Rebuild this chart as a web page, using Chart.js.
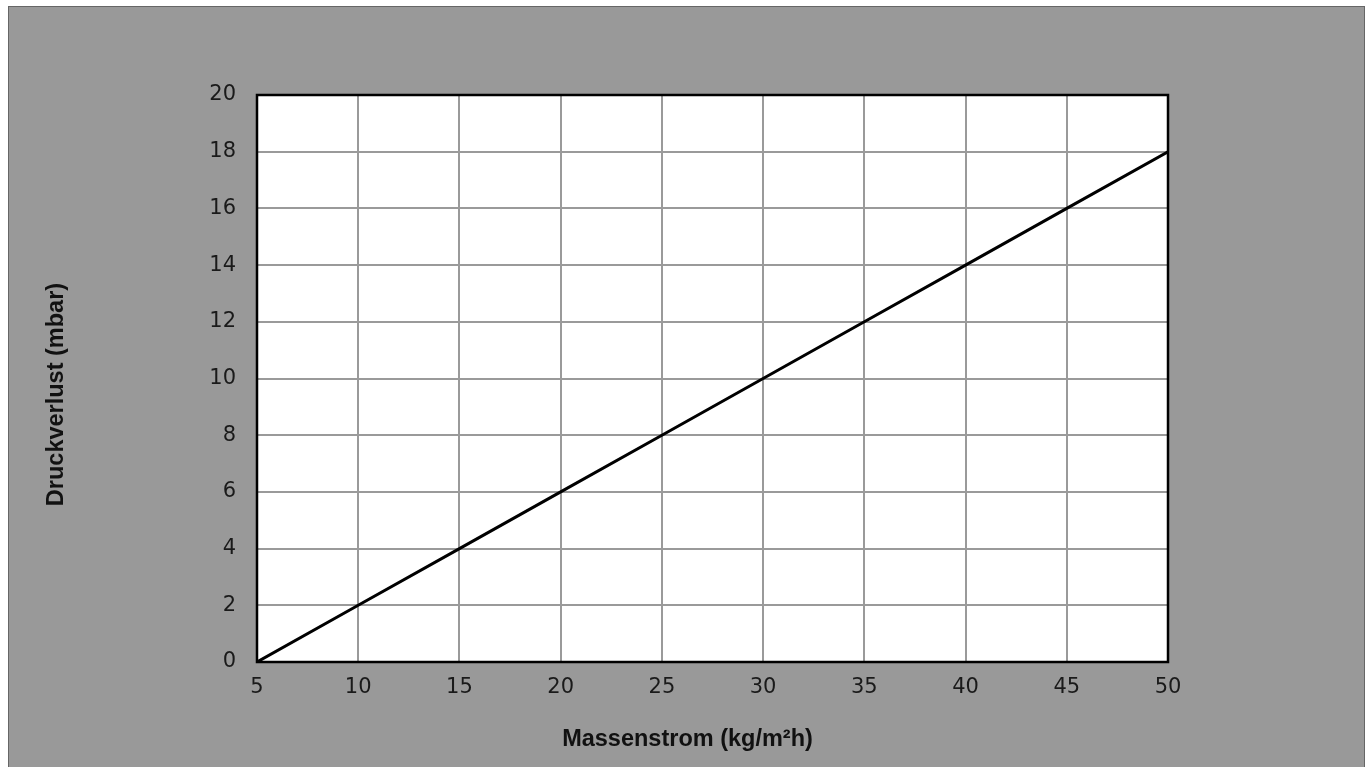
<!DOCTYPE html>
<html>
<head>
<meta charset="utf-8">
<script src="https://cdn.jsdelivr.net/npm/chart.js@4/dist/chart.umd.min.js"></script>
<style>
  html, body { margin: 0; padding: 0; background: #ffffff; width: 1365px; height: 767px; overflow: hidden; }
  #frame { position: absolute; left: 8px; top: 6px; width: 1355px; height: 800px; background: #999999; border: 1px solid #666666; }
  #wrap { position: absolute; left: 0; top: 0; width: 1365px; height: 767px; }
</style>
</head>
<body>
<div id="frame"></div>
<div id="wrap"><canvas id="c" width="1365" height="767"></canvas></div>
<script>
// Data
const massFlow = [5, 10, 15, 20, 25, 30, 35, 40, 45, 50];      // kg/m²h
const pressureLoss = [0, 2, 4, 6, 8, 10, 12, 14, 16, 18];      // mbar
const xTicks = [5, 10, 15, 20, 25, 30, 35, 40, 45, 50];
const yTicks = [0, 2, 4, 6, 8, 10, 12, 14, 16, 18, 20];
const xTitle = 'Massenstrom (kg/m²h)';
const yTitle = 'Druckverlust (mbar)';

const points = massFlow.map((x, i) => ({ x: x, y: pressureLoss[i] }));

const plotFrame = {
  id: 'plotFrame',
  afterLayout(chart) {
    // shift the axis titles along their axes, as in the reference
    const shifts = { x: [-25, 0], y: [0, 16] };
    Object.keys(shifts).forEach(id => {
      const s = chart.scales[id];
      if (!s || s._titleShifted) return;
      const orig = s.drawTitle.bind(s);
      s.drawTitle = function () {
        const c = this.ctx;
        c.save();
        c.translate(shifts[id][0], shifts[id][1]);
        orig();
        c.restore();
      };
      s._titleShifted = true;
    });
  },
  beforeDraw(chart) {
    const { ctx, chartArea: a } = chart;
    ctx.save();
    ctx.fillStyle = '#ffffff';
    ctx.fillRect(a.left, a.top, a.right - a.left, a.bottom - a.top);
    ctx.restore();
  },
  afterDatasetsDraw(chart) {
    const { ctx, chartArea: a } = chart;
    ctx.save();
    ctx.strokeStyle = '#000000';
    ctx.lineWidth = 2.5;
    ctx.strokeRect(a.left, a.top, a.right - a.left, a.bottom - a.top);
    ctx.restore();
  }
};

const tickFont = { family: 'DejaVu Sans', size: 21 };
const titleFont = { family: 'Liberation Sans', size: 23.5, weight: 'bold' };

new Chart(document.getElementById('c'), {
  type: 'line',
  data: {
    datasets: [{
      data: points,
      borderColor: '#000000',
      borderWidth: 3,
      pointRadius: 0,
      tension: 0,
      fill: false
    }]
  },
  plugins: [plotFrame],
  options: {
    responsive: false,
    animation: false,
    layout: { padding: { left: 38, top: 95, right: 197, bottom: 9 } },
    plugins: { legend: { display: false }, tooltip: { enabled: false } },
    scales: {
      x: {
        type: 'linear',
        min: 5, max: 50,
        afterBuildTicks(s) { s.ticks = xTicks.map(v => ({ value: v })); },
        afterFit(s) { s.height = 96; },
        grid: { color: '#9a9a9a', lineWidth: 2, drawTicks: false },
        border: { display: false },
        ticks: { color: '#1a1a1a', font: tickFont, padding: 13, maxRotation: 0 },
        title: { display: true, text: xTitle, color: '#111111', font: titleFont, padding: { top: 4, bottom: 4 } }
      },
      y: {
        type: 'linear',
        min: 0, max: 20,
        afterBuildTicks(s) { s.ticks = yTicks.map(v => ({ value: v })); },
        afterFit(s) { s.width = 219; },
        grid: { color: '#9a9a9a', lineWidth: 2, drawTicks: false },
        border: { display: false },
        ticks: { color: '#1a1a1a', font: tickFont, padding: 21 },
        title: { display: true, text: yTitle, color: '#111111', font: titleFont, padding: { top: 4, bottom: 4 } }
      }
    }
  }
});
</script>
</body>
</html>
